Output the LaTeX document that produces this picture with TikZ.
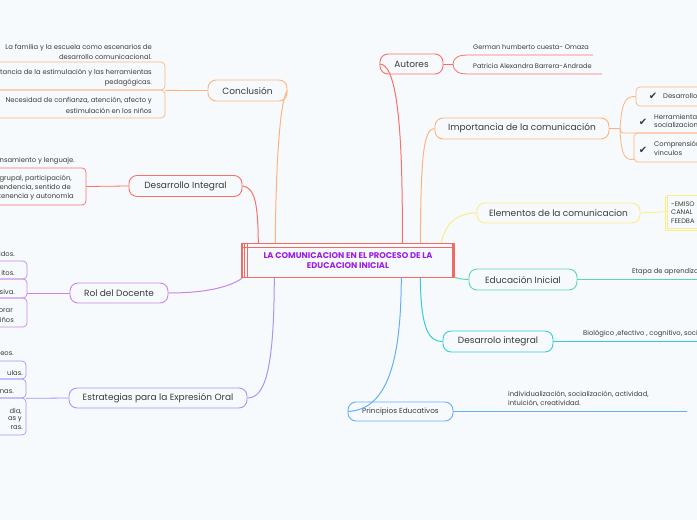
\documentclass[tikz,border=0pt]{standalone}
\usepackage{fontspec}
\setmainfont{Poppins}
\newfontfamily\symfont{DejaVu Sans}
\usetikzlibrary{shadows}
\definecolor{bg}{HTML}{F7FAFC}
\definecolor{txt}{HTML}{3A3A3A}
\definecolor{cOr}{HTML}{FFB27E}
\definecolor{cRed}{HTML}{F7716B}
\definecolor{cPur}{HTML}{C586E8}
\definecolor{cLav}{HTML}{A596F7}
\definecolor{cYel}{HTML}{FCEC85}
\definecolor{cGrn}{HTML}{5DD6AA}
\definecolor{cCya}{HTML}{35CCD6}
\definecolor{cBlu}{HTML}{66AEFA}
\definecolor{cTitle}{HTML}{F26B63}
\definecolor{cTitleTxt}{HTML}{9B1DE8}
\tikzset{
  topic/.style={draw, rounded corners=8pt, fill=bg, line width=0.9pt, minimum height=21pt, inner sep=0pt, font=\fontsize{9}{11}\selectfont, text=txt},
  leaf/.style={font=\fontsize{6.8}{10.5}\selectfont, text=txt, inner sep=0pt},
  lbox/.style={draw, rounded corners=4pt, line width=0.7pt, inner sep=0pt},
  conn/.style={line width=1pt},
  lconn/.style={line width=0.8pt},
  chk/.style={font=\symfont\fontsize{10}{10}\selectfont, text=txt, inner sep=0pt},
}
\begin{document}
\begin{tikzpicture}[x=1pt,y=-1pt]
\useasboundingbox (0,0) rectangle (697,520);
\fill[bg] (0,0) rectangle (697,520);

% ---- title ----
\node[draw=cTitle, line width=1.4pt, fill=bg, minimum width=212pt, minimum height=34pt, inner sep=0pt,
  align=center, font=\bfseries\fontsize{8.3}{10.5}\selectfont, text=cTitleTxt] (title) at (348,260.5)
  {LA COMUNICACION EN EL PROCESO DE LA\\EDUCACION INICIAL};
\draw[cTitle, line width=1.2pt] ([yshift=-5pt]title.north west) -- ([yshift=-5pt]title.north east);
\draw[cTitle, line width=1.2pt] ([xshift=3pt]title.north west) -- ([xshift=3pt]title.south west);
\draw[cTitle, line width=1.2pt] ([xshift=6pt]title.north west) -- ([xshift=6pt]title.south west);
\draw[cTitle, line width=1.2pt] ([xshift=-2pt]title.north east) -- ([xshift=-2pt]title.south east);

% ---- main topics ----
\node[topic, draw=cOr, minimum width=79pt] (con) at (247.5,90.5) {Conclusión};
\node[topic, draw=cRed, minimum width=113pt] (di) at (185.5,186) {Desarrollo Integral};
\node[topic, draw=cPur, minimum width=98pt, minimum height=20pt] (rol) at (119,293) {Rol del Docente};
\node[topic, draw=cLav, minimum width=178pt, minimum height=20pt] (est) at (158,398) {Estrategias para la Expresión Oral};
\node[topic, draw=cRed, minimum width=63pt, minimum height=20pt] (aut) at (411.5,64) {Autores};
\node[topic, draw=cOr, minimum width=174pt] (imp) at (522,128.5) {Importancia de la comunicación};
\node[topic, draw=cYel, minimum width=163pt, minimum height=20pt] (ele) at (558.5,213) {Elementos de la comunicacion};
\node[topic, draw=cGrn, minimum width=108pt] (edu) at (523,279.5) {Educación Inicial};
\node[topic, draw=cCya, minimum width=110pt] (dint) at (498,341.5) {Desarrolo integral};
\node[topic, draw=cBlu, minimum width=105pt, minimum height=19pt, font=\fontsize{7.3}{9}\selectfont] (pri) at (400.5,411.5) {Principios Educativos};

% ---- connectors from title ----
\draw[cOr, conn] ([xshift=34pt]title.north west) .. controls (276,150) and (281,98) .. (con.east);
\draw[cRed, conn] ([xshift=17pt]title.north west) .. controls (258,205) and (255,187) .. (di.east);
\draw[cRed, conn] ([xshift=161pt]title.north west) .. controls (403,120) and (396,64) .. (aut.west);
\draw[cOr, conn] ([xshift=179pt]title.north west) .. controls (421,160) and (423,128.5) .. (imp.west);
\draw[cYel, conn] ([xshift=200pt]title.north west) .. controls (446,220) and (460,213) .. (ele.west);
\draw[cGrn, conn] ([yshift=1pt]title.south east) .. controls (460,279) .. (edu.west);
\draw[cCya, conn] ([xshift=179pt]title.south west) .. controls (421,330) and (429,341.5) .. (dint.west);
\draw[cBlu, conn] ([xshift=160pt]title.south west) .. controls (401,365) and (386,410) .. (pri.west);
\draw[cPur, conn] ([xshift=1pt]title.south west) .. controls (225,290) and (195,293) .. (rol.east);
\draw[cLav, conn] ([xshift=33pt]title.south west) .. controls (274,370) and (265,398) .. (est.east);

% ---- Conclusión leaves ----
\node[leaf, align=right, anchor=east] (c1) at (152,52) {La familia y la escuela como escenarios de\\desarrollo comunicacional.};
\node[lbox, draw=cOr, minimum width=175pt, minimum height=28pt] (cb3) at (77.5,104) {};
\node[lbox, draw=cOr, minimum width=175pt, minimum height=28pt] (cb2) at (77.5,76) {};
\node[leaf, align=right, anchor=east] (c2) at (152,77.5) {tancia de la estimulación y las herramientas\\pedagógicas.};
\node[leaf, align=right, anchor=east] (c3) at (152,105.5) {Necesidad de confianza, atención, afecto y\\estimulación en los niños};
\draw[cOr, lconn] (con.west) -- (cb2.south east);

% ---- Desarrollo Integral leaves ----
\node[leaf, anchor=east] (d1) at (75,161) {nsamiento y lenguaje.};
\node[lbox, draw=cRed, minimum width=96pt, minimum height=37pt] (db) at (38,186.5) {};
\node[leaf, anchor=east] (d2) at (72,179) {grupal, participación,};
\node[leaf, anchor=east] (d3) at (71,188) {pendencia, sentido de};
\node[leaf, anchor=east] (d4) at (74,197) {rtenencia y autonomía};
\draw[cRed, lconn] (di.west) -- (db.east);

% ---- Rol del Docente leaves ----
\node[leaf, anchor=east] (r1) at (15,254) {idos.};
\node[lbox, draw=cPur, minimum width=37pt, minimum height=18pt] (rb1) at (8.5,270) {};
\node[lbox, draw=cPur, minimum width=37pt, minimum height=19pt] (rb2) at (8.5,288.5) {};
\node[lbox, draw=cPur, minimum width=37pt, minimum height=29pt] (rb3) at (8.5,312.5) {};
\node[leaf, anchor=east] (r2) at (15,273) {itos.};
\node[leaf, anchor=east] (r3) at (15,292) {siva.};
\node[leaf, anchor=east] (r4) at (13,311) {orar};
\node[leaf, anchor=east] (r5) at (14,319.5) {iños};
\draw[cPur, lconn] (rol.west) -- ([yshift=-4.5pt]rb2.east);

% ---- Estrategias leaves ----
\node[leaf, anchor=east] (e1) at (14,354) {eos.};
\node[lbox, draw=cLav, minimum width=36pt, minimum height=18pt] (eb1) at (8,370) {};
\node[lbox, draw=cLav, minimum width=36pt, minimum height=19pt] (eb2) at (8,388.5) {};
\node[lbox, draw=cLav, minimum width=36pt, minimum height=37pt] (eb3) at (8,416.5) {};
\node[leaf, anchor=east] (e2) at (23,373) {ulas.};
\node[leaf, anchor=east] (e3) at (14,392) {nas.};
\node[leaf, anchor=east] (e4) at (22,411) {dia,};
\node[leaf, anchor=east] (e5) at (22,419.5) {as y};
\node[leaf, anchor=east] (e6) at (23,428) {ras.};
\draw[cLav, lconn] (est.west) -- (eb2.south east);

% ---- Autores leaves ----
\coordinate (aj) at (453,64);
\node[leaf, anchor=west, font=\fontsize{6.6}{8}\selectfont] (a1) at (473,47) {German humberto cuesta- Omaza};
\node[leaf, anchor=west, font=\fontsize{6.6}{8}\selectfont] (a2) at (473,66.5) {Patricia Alexandra Barrera-Andrade};
\coordinate (a1e) at (593,55);
\coordinate (a2e) at (602,74);
\draw[cRed, lconn] (aut.east) -- (aj);
\draw[cRed, lconn] (aj) .. controls (454,56) and (460,55) .. (470,55) -- (a1e);
\draw[cRed, lconn] (aj) .. controls (454,73) and (460,74) .. (470,74) -- (a2e);

% ---- Importancia leaves ----
\coordinate (ij) at (620,128.5);
\node[lbox, draw=cOr, fill=bg, minimum width=74pt, minimum height=19pt] (ib1) at (673,96.5) {};
\node[lbox, draw=cOr, fill=bg, minimum width=78pt, minimum height=29pt] (ib3) at (673,147.5) {};
\coordinate (i2e) at (700,133);
\draw[cOr, lconn] (imp.east) -- (ij);
\draw[cOr, lconn] (ij) .. controls (622,98) and (627,96.5) .. (ib1.west);
\draw[cOr, lconn] (ij) .. controls (621,133) .. (626,133) -- (i2e);
\draw[cOr, lconn] (ij) .. controls (621,158) and (626,160) .. ([yshift=3pt]ib3.south west);
\node[chk] (k1) at (653,96) {✔};
\node[chk] (k2) at (643,122) {✔};
\node[chk] (k3) at (643,150) {✔};
\node[leaf, anchor=west] (i1) at (663,96.5) {Desarrollo};
\node[leaf, anchor=west, align=left, font=\fontsize{6.8}{8.5}\selectfont] (i2) at (654,121) {Herramienta\\socializacion};
\node[leaf, anchor=west, align=left, font=\fontsize{6.8}{8.5}\selectfont] (i3) at (654,148.5) {Comprensión\\vinculos};

% ---- Elementos leaf ----
\node[draw=cYel, fill=bg, line width=0.8pt, minimum width=45pt, minimum height=33pt, inner sep=0pt,
  copy shadow={shadow xshift=-2.5pt, shadow yshift=-2.5pt, draw=cYel, fill=bg}] (eb) at (690,211.5) {};
\draw[cYel, lconn] (ele.east) -- (eb.west);
\node[leaf, anchor=west, align=left, font=\fontsize{6.6}{8.5}\selectfont] (el) at (671,212.5) {-EMISO\\CANAL\\FEEDBA};

% ---- Educación Inicial leaf ----
\coordinate (eduE) at (697,279.5);
\draw[cGrn, lconn] (edu.east) -- (eduE);
\node[leaf, anchor=west] (ed1) at (632,271.5) {Etapa de aprendiza};

% ---- Desarrolo integral leaf ----
\coordinate (dE) at (697,341.5);
\draw[cCya, lconn] (dint.east) -- (dE);
\node[leaf, anchor=west] (dd1) at (583,334) {Biológico ,efectivo , cognitivo, socia};

% ---- Principios leaf ----
\coordinate (pE) at (687,411.5);
\draw[cBlu, lconn] (pri.east) -- (pE);
\node[leaf, anchor=west, align=left, font=\fontsize{6.8}{9}\selectfont] (pp1) at (508,398.5) {individualización, socialización, actividad,\\intuición, creatividad.};
\end{tikzpicture}
\end{document}
